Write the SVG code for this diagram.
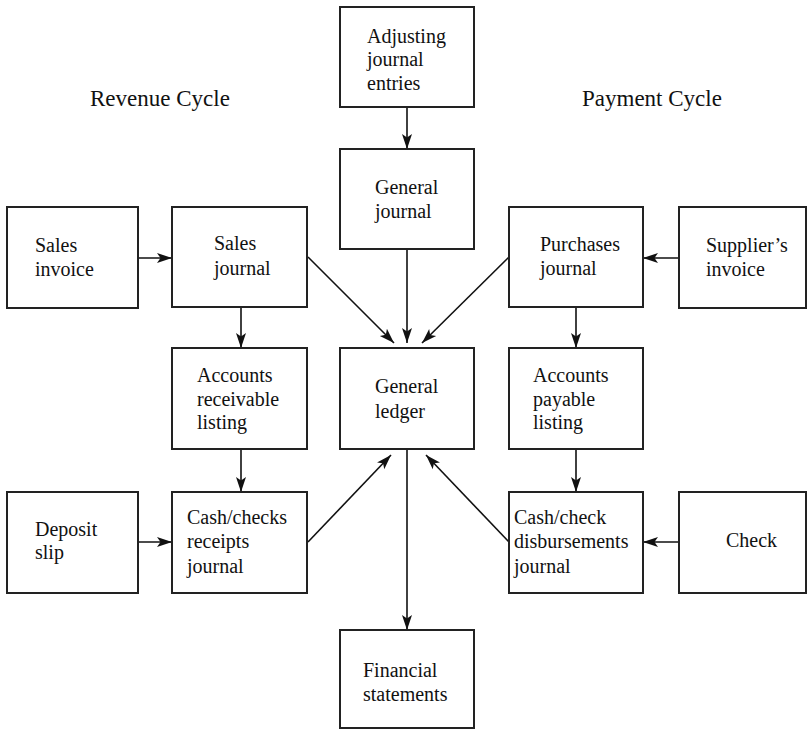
<svg xmlns="http://www.w3.org/2000/svg" width="808" height="730" viewBox="0 0 808 730">
<style>
.box{fill:#fff;stroke:#222;stroke-width:2}
.t{font-family:"Liberation Serif","Times New Roman",serif;font-size:20px;fill:#111}
.h{font-family:"Liberation Serif","Times New Roman",serif;font-size:23px;fill:#111}
.c{stroke:#111;stroke-width:1.6;fill:none;marker-end:url(#ah)}
</style>
<defs>
<marker id="ah" markerUnits="userSpaceOnUse" markerWidth="16" markerHeight="12" refX="15" refY="6" orient="auto">
<path d="M0,1 L15,6 L0,11 L3.5,6 z" fill="#111"/>
</marker>
</defs>
<rect width="808" height="730" fill="#fff"/>
<text class="h" x="90" y="106">Revenue Cycle</text>
<text class="h" x="582" y="106">Payment Cycle</text>
<g id="connectors">
<line class="c" x1="407" y1="107" x2="407" y2="149"/>
<line class="c" x1="138" y1="258" x2="172" y2="258"/>
<line class="c" x1="679" y1="258" x2="643" y2="258"/>
<line class="c" x1="241" y1="307" x2="241" y2="348"/>
<line class="c" x1="576" y1="307" x2="576" y2="348"/>
<line class="c" x1="308" y1="257" x2="394" y2="343"/>
<line class="c" x1="407" y1="249" x2="407" y2="343"/>
<line class="c" x1="509" y1="257" x2="422" y2="343"/>
<line class="c" x1="241" y1="449" x2="241" y2="492"/>
<line class="c" x1="576" y1="449" x2="576" y2="492"/>
<line class="c" x1="138" y1="542" x2="172" y2="542"/>
<line class="c" x1="679" y1="542" x2="643" y2="542"/>
<line class="c" x1="308" y1="542" x2="391" y2="455"/>
<line class="c" x1="509" y1="542" x2="426" y2="455"/>
<line class="c" x1="407" y1="449" x2="407" y2="630"/>
</g>
<g id="adjusting"><rect class="box" x="340" y="7" width="134" height="100"/>
<text class="t" x="367" y="43">Adjusting</text><text class="t" x="367" y="66">journal</text><text class="t" x="367" y="90">entries</text></g>
<g id="general-journal"><rect class="box" x="340" y="149" width="134" height="100"/>
<text class="t" x="375" y="194">General</text><text class="t" x="375" y="218">journal</text></g>
<g id="sales-invoice"><rect class="box" x="7" y="207" width="131" height="101"/>
<text class="t" x="35" y="252">Sales</text><text class="t" x="35" y="276">invoice</text></g>
<g id="sales-journal"><rect class="box" x="172" y="207" width="135" height="100"/>
<text class="t" x="214" y="250">Sales</text><text class="t" x="214" y="275">journal</text></g>
<g id="purchases-journal"><rect class="box" x="509" y="207" width="134" height="100"/>
<text class="t" x="540" y="251">Purchases</text><text class="t" x="540" y="275">journal</text></g>
<g id="suppliers-invoice"><rect class="box" x="679" y="207" width="127" height="101"/>
<text class="t" x="706" y="252">Supplier’s</text><text class="t" x="706" y="276">invoice</text></g>
<g id="accounts-receivable"><rect class="box" x="172" y="348" width="135" height="101"/>
<text class="t" x="197" y="382">Accounts</text><text class="t" x="197" y="406">receivable</text><text class="t" x="197" y="429">listing</text></g>
<g id="general-ledger"><rect class="box" x="340" y="348" width="134" height="101"/>
<text class="t" x="375" y="393">General</text><text class="t" x="375" y="418">ledger</text></g>
<g id="accounts-payable"><rect class="box" x="509" y="348" width="134" height="101"/>
<text class="t" x="533" y="382">Accounts</text><text class="t" x="533" y="406">payable</text><text class="t" x="533" y="429">listing</text></g>
<g id="deposit-slip"><rect class="box" x="7" y="492" width="131" height="101"/>
<text class="t" x="35" y="536">Deposit</text><text class="t" x="35" y="559">slip</text></g>
<g id="cash-receipts"><rect class="box" x="172" y="492" width="135" height="101"/>
<text class="t" x="187" y="524">Cash/checks</text><text class="t" x="187" y="548">receipts</text><text class="t" x="187" y="573">journal</text></g>
<g id="cash-disbursements"><rect class="box" x="509" y="492" width="134" height="101"/>
<text class="t" x="514" y="524">Cash/check</text><text class="t" x="514" y="548">disbursements</text><text class="t" x="514" y="573">journal</text></g>
<g id="check"><rect class="box" x="679" y="492" width="127" height="101"/>
<text class="t" x="726" y="547">Check</text></g>
<g id="financial-statements"><rect class="box" x="340" y="630" width="134" height="98"/>
<text class="t" x="363" y="677">Financial</text><text class="t" x="363" y="701">statements</text></g>
</svg>
